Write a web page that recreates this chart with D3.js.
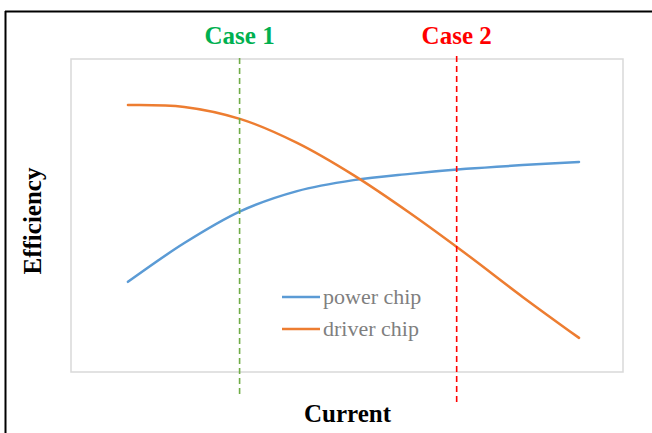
<!DOCTYPE html>
<html>
<head>
<meta charset="utf-8">
<script src="https://cdn.jsdelivr.net/npm/d3@7/dist/d3.min.js"></script>
<style>
  html, body { margin: 0; padding: 0; background: #fff; }
  svg { display: block; }
</style>
</head>
<body>
<svg id="chart" width="652" height="433"></svg>
<script>
// ---- data ----
const currentSteps = [0, 1, 2, 3, 4, 5, 6, 7, 8];
const powerChip  = [28.8, 41.2, 51.4, 57.8, 61.3, 63.3, 64.9, 66.1, 67.1];
const driverChip = [85.3, 84.7, 80.8, 73.2, 62.9, 50.8, 37.7, 24.0, 10.9];
const seriesNames = ["power chip", "driver chip"];
const caseNames = ["Case 1", "Case 2"];
const caseX = [1.98, 5.83];

// ---- layout ----
const svg = d3.select("#chart");
const plot = { left: 71, right: 623, top: 59, bottom: 372 };

const x = d3.scaleLinear().domain([-1.01, 8.78]).range([plot.left, plot.right]);
const y = d3.scaleLinear().domain([0, 100]).range([plot.bottom, plot.top]);

// outer frame (top & left)
svg.append("line").attr("x1", 5).attr("x2", 652).attr("y1", 11.5).attr("y2", 11.5)
  .attr("stroke", "#000").attr("stroke-width", 2);
svg.append("line").attr("x1", 5.5).attr("x2", 5.5).attr("y1", 11).attr("y2", 433)
  .attr("stroke", "#000").attr("stroke-width", 2);

// plot area border
svg.append("rect")
  .attr("x", plot.left).attr("y", plot.top)
  .attr("width", plot.right - plot.left).attr("height", plot.bottom - plot.top)
  .attr("fill", "none").attr("stroke", "#d9d9d9").attr("stroke-width", 1.5);

// lines
const line = d3.line()
  .x((d, i) => x(currentSteps[i]))
  .y(d => y(d))
  .curve(d3.curveCatmullRom.alpha(0.5));

const colors = ["#5B9BD5", "#ED7D31"];
[powerChip, driverChip].forEach((s, i) => {
  svg.append("path").datum(s)
    .attr("d", line)
    .attr("fill", "none")
    .attr("stroke", colors[i])
    .attr("stroke-width", 2.5)
    .attr("stroke-linecap", "round");
});

// case lines
const caseLineColors = ["#70AD47", "#FF0000"];
const caseTextColors = ["#00B050", "#FF0000"];
const caseExtents = [[58, 398], [56, 403]];
caseX.forEach((cx, i) => {
  svg.append("line")
    .attr("x1", x(cx)).attr("x2", x(cx))
    .attr("y1", caseExtents[i][0]).attr("y2", caseExtents[i][1])
    .attr("stroke", caseLineColors[i])
    .attr("stroke-width", 1.6)
    .attr("stroke-dasharray", "6,4");
  svg.append("text")
    .attr("x", x(cx)).attr("y", 43.5)
    .attr("text-anchor", "middle")
    .attr("font-family", "Liberation Serif, Times New Roman, serif")
    .attr("font-weight", "bold")
    .attr("font-size", 25)
    .attr("fill", caseTextColors[i])
    .text(caseNames[i]);
});

// legend
seriesNames.forEach((name, i) => {
  const ly = 297 + i * 32;
  svg.append("line")
    .attr("x1", 282).attr("x2", 320).attr("y1", ly).attr("y2", ly)
    .attr("stroke", colors[i]).attr("stroke-width", 2.5);
  svg.append("text")
    .attr("x", 323).attr("y", ly + 7)
    .attr("font-family", "Liberation Serif, Times New Roman, serif")
    .attr("font-size", 22)
    .attr("fill", "#7f7f7f")
    .text(name);
});

// axis titles
svg.append("text")
  .attr("x", (plot.left + plot.right) / 2 + 0.5).attr("y", 421.5)
  .attr("text-anchor", "middle")
  .attr("font-family", "Liberation Serif, Times New Roman, serif")
  .attr("font-weight", "bold").attr("font-size", 25)
  .attr("fill", "#000")
  .text("Current");

svg.append("text")
  .attr("transform", "translate(41,221) rotate(-90)")
  .attr("text-anchor", "middle")
  .attr("font-family", "Liberation Serif, Times New Roman, serif")
  .attr("font-weight", "bold").attr("font-size", 25)
  .attr("fill", "#000")
  .text("Efficiency");
</script>
</body>
</html>
